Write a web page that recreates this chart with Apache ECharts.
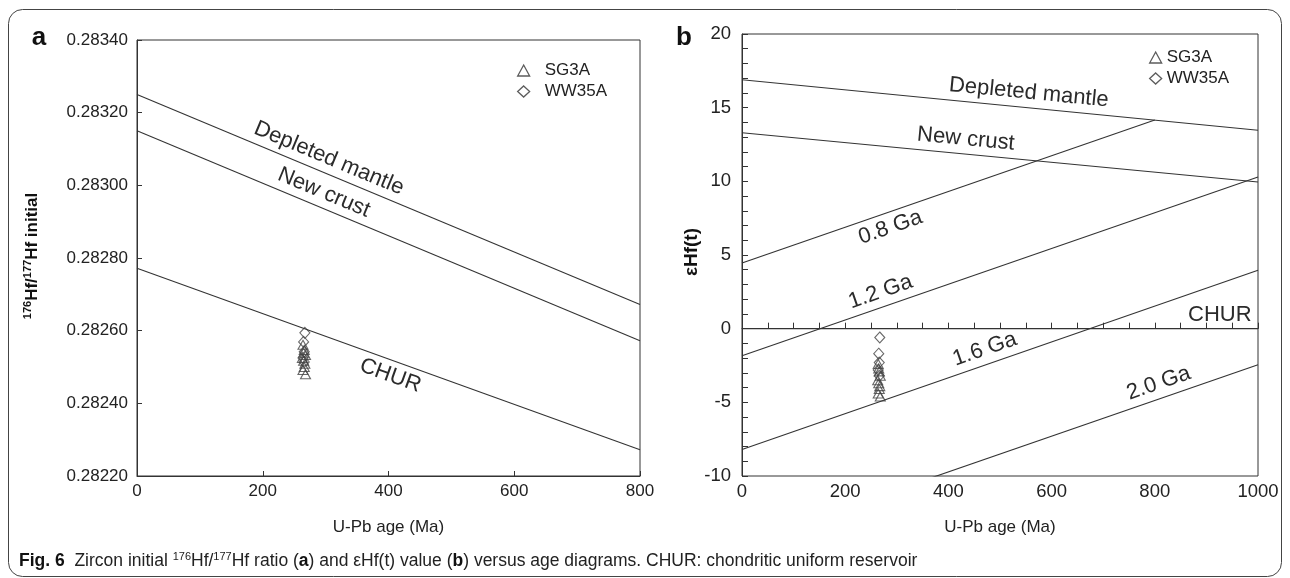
<!DOCTYPE html>
<html>
<head>
<meta charset="utf-8">
<script src="https://cdn.jsdelivr.net/npm/echarts@6/dist/echarts.min.js"></script>
<style>
html, body { margin: 0; padding: 0; background: #fff; }
#main { width: 1290px; height: 578px; }
</style>
</head>
<body>
<div id="main"></div>
<script>
// ---- panel a : 176Hf/177Hf initial vs age ----
var ageA = [0, 800];
var dmA = [0.28325, 0.282672];
var ncA = [0.28315, 0.282572];
var churA = [0.282772, 0.282272];

var sgAgeA = [264, 266, 268, 263, 265, 267, 266, 264, 268, 265];
var sgValA = [0.282561, 0.282547, 0.282533, 0.282525, 0.282517, 0.282509, 0.282500, 0.282492, 0.282480, 0.282539];
var wwAgeA = [267, 265, 266, 264, 266];
var wwValA = [0.282594, 0.282569, 0.282542, 0.282525, 0.282514];

// ---- panel b : eHf(t) vs age ----
var ageB = [0, 1000];
var dmB = [16.9, 13.47];
var ncB = [13.3, 9.95];
var ga08Age = [0, 800];
var ga08 = [4.46, 14.17];
var ga12 = [-1.84, 10.3];
var churB = [0, 0];
var ga16 = [-8.2, 3.96];
var ga20 = [-14.57, -2.45];

var sgAgeB = [264, 266, 268, 263, 265, 267, 266, 264, 268, 265];
var sgValB = [-2.4, -2.9, -3.2, -3.5, -3.7, -3.9, -4.1, -4.4, -4.6, -2.7];
var wwAgeB = [267, 265, 266, 264, 266];
var wwValB = [-0.6, -1.7, -2.3, -2.8, -3.2];

// line labels: grid, line ages, line values, age along line, text, offset px (+ above, - below)
var lineLabels = [
	[0, ageA, dmA, 296, 'Depleted mantle', 15],
	[0, ageA, ncA, 288, 'New crust', 15],
	[0, ageA, churA, 411, 'CHUR', -15],
	[1, ageB, dmB, 553, 'Depleted mantle', 15],
	[1, ageB, ncB, 431, 'New crust', 15],
	[1, ga08Age, ga08, 278, '0.8 Ga', -15],
	[1, ageB, ga12, 278, '1.2 Ga', 15],
	[1, ageB, churB, 926, 'CHUR', 14],
	[1, ageB, ga16, 480, '1.6 Ga', 15],
	[1, ageB, ga20, 817, '2.0 Ga', 15]
];

function pairs(xs, ys) {
	var out = [];
	for (var i = 0; i < xs.length; i++) out.push([xs[i], ys[i]]);
	return out;
}

var chart = echarts.init(document.getElementById('main'));
var fontName = 'Liberation Sans';
var ink = '#2b2b2b';

function modelLine(name, g, xs, ys) {
	return {
		name: name, type: 'line', xAxisIndex: g, yAxisIndex: g,
		data: pairs(xs, ys), symbol: 'none', silent: true, clip: true,
		lineStyle: { color: '#333', width: 1.1 }
	};
}
function points(name, g, sym, xs, ys) {
	return {
		name: name, type: 'scatter', xAxisIndex: g, yAxisIndex: g,
		symbol: sym, symbolSize: sym == 'diamond' ? [10, 11] : [10, 9],
		data: pairs(xs, ys),
		itemStyle: { color: 'rgba(255,255,255,0)', borderColor: '#444', borderWidth: 1.1 }
	};
}
function legendData() {
	return [
		{ name: 'SG3A', icon: 'triangle', itemStyle: { color: '#fff', borderColor: '#333', borderWidth: 1.3 } },
		{ name: 'WW35A', icon: 'diamond', itemStyle: { color: '#fff', borderColor: '#333', borderWidth: 1.3 } }
	];
}

var lineCol = '#333';

option = {
	animation: false,
	backgroundColor: '#fff',
	textStyle: { fontFamily: fontName },
	grid: [
		{ left: 137, top: 40, width: 503, height: 436, show: true, borderColor: lineCol, borderWidth: 1 },
		{ left: 742, top: 34, width: 516, height: 442, show: true, borderColor: lineCol, borderWidth: 1 }
	],
	legend: [
		{
			left: 512, top: 57, orient: 'vertical', itemGap: 4, itemWidth: 12, itemHeight: 11,
			textStyle: { fontSize: 17, color: '#222', padding: [0, 0, 0, 10] },
			data: legendData()
		},
		{
			left: 1144, top: 44, orient: 'vertical', itemGap: 4, itemWidth: 12, itemHeight: 11,
			textStyle: { fontSize: 17, color: '#222', padding: [0, 0, 0, 0] },
			data: legendData()
		}
	],
	xAxis: [
		{
			gridIndex: 0, type: 'value', min: 0, max: 800, interval: 200,
			name: 'U-Pb age (Ma)', nameLocation: 'middle', nameGap: 43,
			nameTextStyle: { fontSize: 17, color: '#222' },
			axisLine: { lineStyle: { color: lineCol } },
			axisTick: { inside: true, length: 5, lineStyle: { color: lineCol } },
			splitLine: { show: false },
			axisLabel: { margin: 7, color: '#222', fontSize: 17 }
		},
		{
			gridIndex: 1, type: 'value', min: 0, max: 1000, interval: 200,
			name: 'U-Pb age (Ma)', nameLocation: 'middle', nameGap: 43,
			nameTextStyle: { fontSize: 17, color: '#222' },
			axisLine: { lineStyle: { color: lineCol } },
			axisTick: { inside: true, length: 6, lineStyle: { color: lineCol } },
			minorTick: { show: true, splitNumber: 4, length: 6, lineStyle: { color: lineCol } },
			splitLine: { show: false },
			axisLabel: { margin: 6, color: '#222', fontSize: 18.5, formatter: function(v) { return String(v); } }
		}
	],
	yAxis: [
		{
			gridIndex: 0, type: 'value', min: 0.2822, max: 0.2834, interval: 0.0002,
			axisLine: { lineStyle: { color: lineCol } },
			axisTick: { inside: true, length: 5, lineStyle: { color: lineCol } },
			splitLine: { show: false },
			axisLabel: { margin: 9, color: '#222', fontSize: 17, formatter: function(v) { return v.toFixed(5); } }
		},
		{
			gridIndex: 1, type: 'value', min: -10, max: 20, interval: 5,
			axisLine: { lineStyle: { color: lineCol } },
			axisTick: { inside: true, length: 6, lineStyle: { color: lineCol } },
			minorTick: { show: true, splitNumber: 5, length: 6, lineStyle: { color: lineCol } },
			splitLine: { show: false },
			axisLabel: { margin: 11, color: '#222', fontSize: 18.5 }
		}
	],
	series: [
		modelLine('dmA', 0, ageA, dmA),
		modelLine('ncA', 0, ageA, ncA),
		modelLine('churA', 0, ageA, churA),
		points('SG3A', 0, 'triangle', sgAgeA, sgValA),
		points('WW35A', 0, 'diamond', wwAgeA, wwValA),
		modelLine('dmB', 1, ageB, dmB),
		modelLine('ncB', 1, ageB, ncB),
		modelLine('ga08', 1, ga08Age, ga08),
		modelLine('ga12', 1, ageB, ga12),
		modelLine('churB', 1, ageB, churB),
		modelLine('ga16', 1, ageB, ga16),
		modelLine('ga20', 1, ageB, ga20),
		points('SG3A', 1, 'triangle', sgAgeB, sgValB),
		points('WW35A', 1, 'diamond', wwAgeB, wwValB)
	]
};
chart.setOption(option);

// frame, panel letters, axis titles, caption
var graphics = [
	{
		type: 'rect', silent: true,
		shape: { x: 8.5, y: 9.5, width: 1273, height: 567, r: 14 },
		style: { fill: 'none', stroke: '#444', lineWidth: 1 }
	},
	{ type: 'text', x: 39, y: 38, style: { text: 'a', font: 'bold 26px "Liberation Sans"', fill: '#111', align: 'center', verticalAlign: 'middle' } },
	{ type: 'text', x: 684, y: 38, style: { text: 'b', font: 'bold 26px "Liberation Sans"', fill: '#111', align: 'center', verticalAlign: 'middle' } },
	{
		type: 'text', x: 32, y: 256, rotation: Math.PI / 2,
		style: {
			text: '{s|176}{b|Hf/}{s|177}{b|Hf initial}', align: 'center', verticalAlign: 'middle',
			rich: {
				s: { fontSize: 11, fontWeight: 'bold', fill: '#111', verticalAlign: 'top', lineHeight: 20 },
				b: { fontSize: 17, fontWeight: 'bold', fill: '#111', lineHeight: 20 }
			}
		}
	},
	{
		type: 'text', x: 692, y: 252, rotation: Math.PI / 2,
		style: { text: 'εHf(t)', font: 'bold 19px "Liberation Sans"', fill: '#111', align: 'center', verticalAlign: 'middle' }
	},
	{
		type: 'text', x: 19, y: 561,
		style: {
			text: '{f|Fig. 6}  Zircon initial {s|176}Hf/{s|177}Hf ratio ({k|a}) and εHf(t) value ({k|b}) versus age diagrams. CHUR: chondritic uniform reservoir',
			fontSize: 17.5, fill: '#222', fontFamily: fontName, verticalAlign: 'middle',
			rich: {
				f: { fontSize: 17.5, fontWeight: 'bold', fill: '#111', lineHeight: 20 },
				k: { fontSize: 17.5, fontWeight: 'bold', fill: '#111', lineHeight: 20 },
				s: { fontSize: 11, fill: '#222', verticalAlign: 'top', lineHeight: 20 }
			}
		}
	}
];

// labels along the model lines, rotated with the line as drawn
lineLabels.forEach(function(l) {
	var g = { gridIndex: l[0] };
	var xs = l[1], ys = l[2];
	var p0 = chart.convertToPixel(g, [xs[0], ys[0]]);
	var p1 = chart.convertToPixel(g, [xs[1], ys[1]]);
	var t = (l[3] - xs[0]) / (xs[1] - xs[0]);
	var p = chart.convertToPixel(g, [l[3], ys[0] + t * (ys[1] - ys[0])]);
	var th = Math.atan2(p1[1] - p0[1], p1[0] - p0[0]);
	var d = l[5];
	graphics.push({
		type: 'text', silent: true,
		x: p[0] + Math.sin(th) * d, y: p[1] - Math.cos(th) * d,
		rotation: -th,
		style: { text: l[4], font: '22px "Liberation Sans"', fill: ink, align: 'center', verticalAlign: 'middle' }
	});
});
chart.setOption({ graphic: graphics });
</script>
</body>
</html>
